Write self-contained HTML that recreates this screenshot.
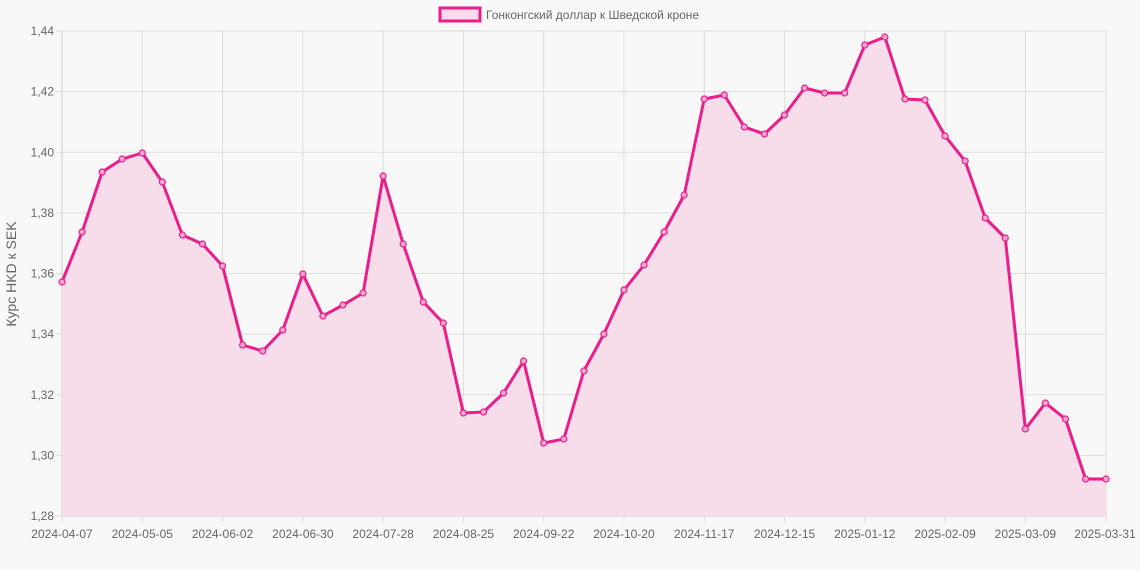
<!DOCTYPE html>
<html><head><meta charset="utf-8"><style>
html,body{margin:0;padding:0;background:#f8f8f8;}
svg{display:block;font-family:"Liberation Sans",sans-serif;}
</style></head><body>
<svg id="s" width="1140" height="570" xmlns="http://www.w3.org/2000/svg">
<rect width="1140" height="570" fill="#f8f8f8"/>
<g id="grid"></g>
<rect x="440" y="8" width="40" height="13" fill="#f8dbe9" stroke="#e91e8c" stroke-width="3"/>
<text x="486" y="19" font-size="12" fill="#666">Гонконгский доллар к Шведской кроне</text>
<text transform="translate(16,274) rotate(-90)" text-anchor="middle" font-size="14" fill="#666">Курс HKD к SEK</text>
<g id="data"></g>
</svg>
<script>
const NS="http://www.w3.org/2000/svg";
const g=document.getElementById('grid'),d=document.getElementById('data');
function el(p,t,a,txt){const e=document.createElementNS(NS,t);for(const k in a)e.setAttribute(k,a[k]);if(txt)e.textContent=txt;p.appendChild(e);return e;}
const L=62,R=1106,T=31,B=516;
for(let i=0;i<=8;i++){const y=T+i*(B-T)/8;el(g,'line',{x1:L-6,x2:R,y1:y,y2:y,stroke:'#ddd'});
el(g,'text',{x:L-8,y:y+4,'text-anchor':'end','font-size':12,fill:'#666'},(1.44-i*0.02).toFixed(2).replace('.',','));}
const st=20.07;
const labels=['2024-04-07','2024-05-05','2024-06-02','2024-06-30','2024-07-28','2024-08-25','2024-09-22','2024-10-20','2024-11-17','2024-12-15','2025-01-12','2025-02-09','2025-03-09'];
labels.forEach((t,i)=>{const x=L+i*4*st;el(g,'line',{x1:x,x2:x,y1:T,y2:B+6,stroke:'#ddd'});el(g,'text',{x:x,y:B+22,'text-anchor':'middle','font-size':12,fill:'#666'},t);});
el(g,'line',{x1:R,x2:R,y1:T,y2:B+6,stroke:'#ddd'});el(g,'text',{x:R-1,y:B+22,'text-anchor':'middle','font-size':12,fill:'#666'},'2025-03-31');
el(g,'line',{x1:L,x2:L,y1:T,y2:B,stroke:'#ccc'});el(g,'line',{x1:L,x2:R,y1:B,y2:B,stroke:'#ccc'});
const ys=[282,232,172,159,153,182,235,244,266,345,351,330,274,316,305,293,176,244,302,323,413,412,393,361,443,439,371,334,290,265,232,195,99,95,127,134,115,88,93,93,45,37,99,100,136,161,218,238,429,403,419,479];
const pts=ys.map((y,i)=>[L+i*st,y]);pts.push([R,479]);
const line=pts.map((p,i)=>(i?'L':'M')+p[0].toFixed(1)+','+p[1]).join('');
el(d,'path',{d:line+`L${R},${B}L${L},${B}Z`,fill:'#f7dce9'});
el(d,'path',{d:line,fill:'none',stroke:'#e91e8c','stroke-width':3,'stroke-linejoin':'round'});
pts.forEach(p=>el(d,'circle',{cx:p[0],cy:p[1],r:3,fill:'#f4a6cd',stroke:'#e91e8c','stroke-width':1.2}));
</script>
</body></html>
